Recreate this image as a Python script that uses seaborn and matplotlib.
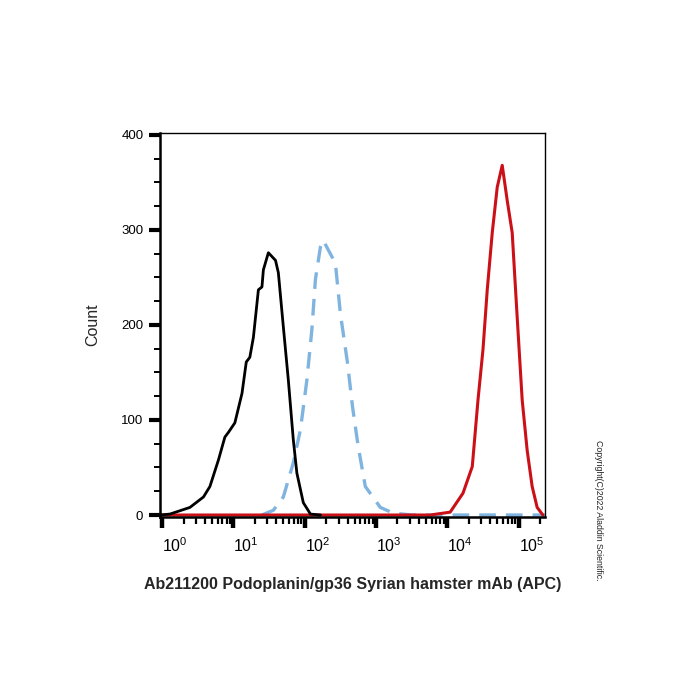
import numpy as np
import pandas as pd
import matplotlib
matplotlib.use("Agg")
import matplotlib.pyplot as plt
import seaborn as sns
from matplotlib.ticker import FixedLocator, NullFormatter

# --- DATA (x read as decades, log10 of intensity) ---
black_logx = [-0.03, 0.11, 0.39, 0.58, 0.67, 0.79, 0.88, 0.93, 1.02, 1.12, 1.18, 1.23, 1.28,
              1.35, 1.40, 1.42, 1.49, 1.59, 1.63, 1.70, 1.77, 1.84, 1.89, 1.98, 2.08, 2.22]
black_count = [0, 1, 8, 19, 30, 58, 82, 87, 97, 128, 161, 166, 187,
               237, 240, 258, 276, 268, 255, 198, 142, 79, 44, 13, 1, 0]

blue_logx = [1.40, 1.56, 1.70, 1.84, 1.94, 2.03, 2.10, 2.15, 2.22, 2.26, 2.33, 2.43, 2.50,
             2.60, 2.67, 2.75, 2.85, 3.06, 3.24, 3.50, 5.37]
blue_count = [0, 5, 19, 55, 90, 142, 195, 248, 282, 289, 279, 265, 212,
              160, 114, 72, 30, 8, 2, 0, 0]

red_logx = [-0.03, 3.76, 4.04, 4.22, 4.35, 4.43, 4.50, 4.56, 4.63, 4.70, 4.77,
            4.84, 4.91, 4.98, 5.05, 5.12, 5.19, 5.26, 5.34]
red_count = [0, 0, 3, 23, 51, 121, 174, 237, 297, 345, 368,
             331, 297, 208, 121, 68, 30, 8, 0]

decades = [0, 1, 2, 3, 4, 5]
y_major = [0, 100, 200, 300, 400]

xlabel = "Ab211200 Podoplanin/gp36 Syrian hamster mAb (APC)"
ylabel = "Count"
copyright_text = "Copyright(C)2022 Aladdin Scientific."

# --- STYLE ---
sns.set_style("ticks", {"axes.edgecolor": "black", "xtick.color": "black",
                        "ytick.color": "black", "text.color": "black"})
plt.rcParams['font.family'] = ['Liberation Sans', 'DejaVu Sans']
plt.rcParams['mathtext.fontset'] = 'custom'
plt.rcParams['mathtext.rm'] = 'Liberation Sans'
plt.rcParams['mathtext.it'] = 'Liberation Sans'

fig = plt.figure(figsize=(7, 7), dpi=100)
ax = fig.add_axes([160 / 700, 183 / 700, 385 / 700, 384 / 700])

def frame(xs, ys):
    return pd.DataFrame({"x": np.power(10.0, xs), "y": ys})

sns.lineplot(data=frame(blue_logx, blue_count), x="x", y="y", ax=ax, color="#80b4e0",
             linewidth=2.4, linestyle=(0, (5, 3)), sort=True)
sns.lineplot(data=frame(red_logx, red_count), x="x", y="y", ax=ax, color="#cc1018",
             linewidth=2.2, sort=True)
sns.lineplot(data=frame(black_logx, black_count), x="x", y="y", ax=ax, color="black",
             linewidth=2.0, sort=True)

ax.set_xscale("log")
ax.set_xlim(10 ** -0.03, 10 ** 5.37)
ax.set_ylim(-2.1, 402)

# x ticks
ax.xaxis.set_major_locator(FixedLocator([10.0 ** d for d in decades]))
ax.set_xticklabels([f"$10^{{{d}}}$" for d in decades], fontsize=11.5, ha="left")
minor = [k * 10.0 ** d for d in range(0, 6) for k in range(2, 10) if k * 10.0 ** d < 10 ** 5.37]
ax.xaxis.set_minor_locator(FixedLocator(minor))
ax.xaxis.set_minor_formatter(NullFormatter())
ax.tick_params(axis="x", which="major", length=8, width=3.2, pad=6, direction="out")
ax.tick_params(axis="x", which="minor", length=5, width=1.6, direction="out")

# y ticks
ax.yaxis.set_major_locator(FixedLocator(y_major))
ax.yaxis.set_minor_locator(FixedLocator([v for v in range(25, 400, 25) if v % 100]))
ax.yaxis.set_minor_formatter(NullFormatter())
ax.set_yticklabels([str(v) for v in y_major], fontsize=9.5)
ax.tick_params(axis="y", which="major", length=8, width=3, pad=4)
ax.tick_params(axis="y", which="minor", length=4, width=1.4)

for side in ["left", "bottom"]:
    ax.spines[side].set_linewidth(1.8)
for side in ["top", "right"]:
    ax.spines[side].set_visible(True)
    ax.spines[side].set_linewidth(1.0)

ax.set_xlabel(xlabel, fontsize=11.5, fontweight="bold", labelpad=16)
ax.set_ylabel(ylabel, fontsize=11.5, labelpad=15)
fig.text(598 / 700, 1 - 510 / 700, copyright_text, rotation=-90, fontsize=6.3,
         ha="center", va="center", color="#222222")

fig.savefig("out.png", dpi=100)
